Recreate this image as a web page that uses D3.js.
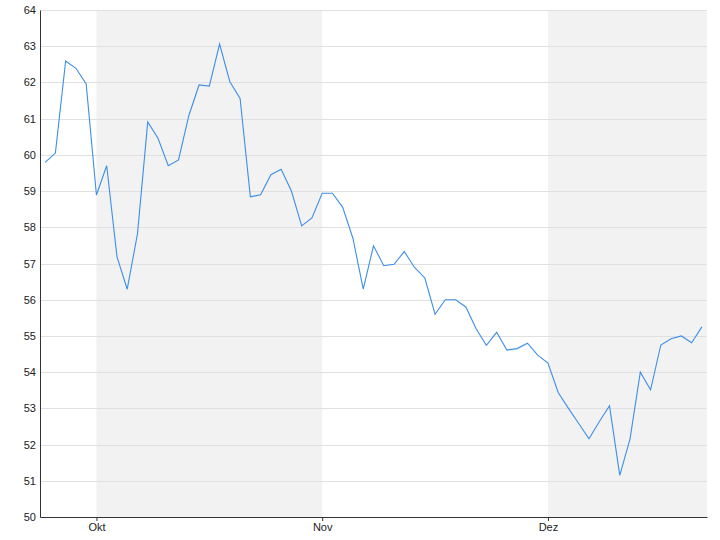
<!DOCTYPE html>
<meta charset="utf-8">
<script src="https://d3js.org/d3.v7.min.js"></script>
<style>
  body { margin: 0; background: #fff; }
  svg text { font-family: "Liberation Sans", Arial, sans-serif; font-size: 11px; fill: #222; }
</style>
<svg id="chart" width="720" height="540"></svg>
<script>

// daily closing values (trading days)
var values = [
  59.79, 60.05, 62.59, 62.39, 61.96, 58.89, 59.70, 57.19, 56.29, 57.82,
  60.91, 60.46, 59.70, 59.86, 61.08, 61.93, 61.90, 63.06, 62.02, 61.56,
  58.84, 58.90, 59.45, 59.60, 59.00, 58.04, 58.26, 58.94, 58.94, 58.55,
  57.69, 56.29, 57.49, 56.94, 56.98, 57.33, 56.89, 56.60, 55.60, 56.00,
  56.00, 55.80, 55.20, 54.74, 55.10, 54.61, 54.65, 54.80, 54.47, 54.25,
  53.44, 53.00, 52.58, 52.16, 52.63, 53.07, 51.15, 52.16, 54.00, 53.51,
  54.75, 54.92, 55.00, 54.81, 55.25
];

// first trading day of each month (index into values)
var monthLabels = ["Okt", "Nov", "Dez"];
var monthStarts = [5, 27, 49];
var shadedMonths = [0, 2]; // which of the months above get a grey band

var yTicks = d3.range(50, 65, 1);

var svg = d3.select("#chart"),
  margin = {top: 10, right: 13, bottom: 23, left: 40},
  width = +svg.attr("width") - margin.left - margin.right,
  height = +svg.attr("height") - margin.top - margin.bottom;

var g = svg.append("g").attr("transform", "translate(" + margin.left + "," + margin.top + ")");

var x = d3.scaleLinear()
  .domain([-0.5, values.length - 0.5])
  .range([0, width]);

var y = d3.scaleLinear()
  .domain([50, 64])
  .range([height, 0]);

// grey month bands
g.append("g")
  .selectAll("rect")
  .data(shadedMonths)
  .enter()
  .append("rect")
    .attr("x", function(m) { return x(monthStarts[m]); })
    .attr("y", 0)
    .attr("width", function(m) {
      var end = m + 1 < monthStarts.length ? x(monthStarts[m + 1]) : width;
      return end - x(monthStarts[m]);
    })
    .attr("height", height)
    .attr("fill", "#f2f2f2");

// horizontal gridlines
g.append("g")
  .selectAll("line")
  .data(yTicks)
  .enter()
  .append("line")
    .attr("x1", 0)
    .attr("x2", width)
    .attr("y1", function(d) { return Math.round(y(d)) + 0.5; })
    .attr("y2", function(d) { return Math.round(y(d)) + 0.5; })
    .attr("stroke", "#e0e0e0")
    .attr("stroke-width", 1);

// y axis
var yAxis = g.append("g")
  .call(d3.axisLeft(y).tickValues(yTicks).tickSize(0).tickPadding(4).tickFormat(d3.format("d")));
yAxis.select(".domain").attr("stroke", "#333");
yAxis.selectAll("text").style("font-size", "11px").attr("fill", "#222");

// x axis with month labels
var xAxis = g.append("g")
  .attr("transform", "translate(0," + height + ")")
  .call(d3.axisBottom(x)
    .tickValues(monthStarts)
    .tickSize(4)
    .tickSizeOuter(0)
    .tickPadding(2)
    .tickFormat(function(d, i) { return monthLabels[i]; }));
xAxis.select(".domain").attr("stroke", "#333");
xAxis.selectAll(".tick line").attr("stroke", "#333");
xAxis.selectAll("text").style("font-size", "11px").attr("fill", "#222");

// the line
var line = d3.line()
  .x(function(d, i) { return x(i); })
  .y(function(d) { return y(d); });

g.append("path")
  .datum(values)
  .attr("fill", "none")
  .attr("stroke", "#3d8fe6")
  .attr("stroke-width", 1.1)
  .attr("d", line);

</script>
